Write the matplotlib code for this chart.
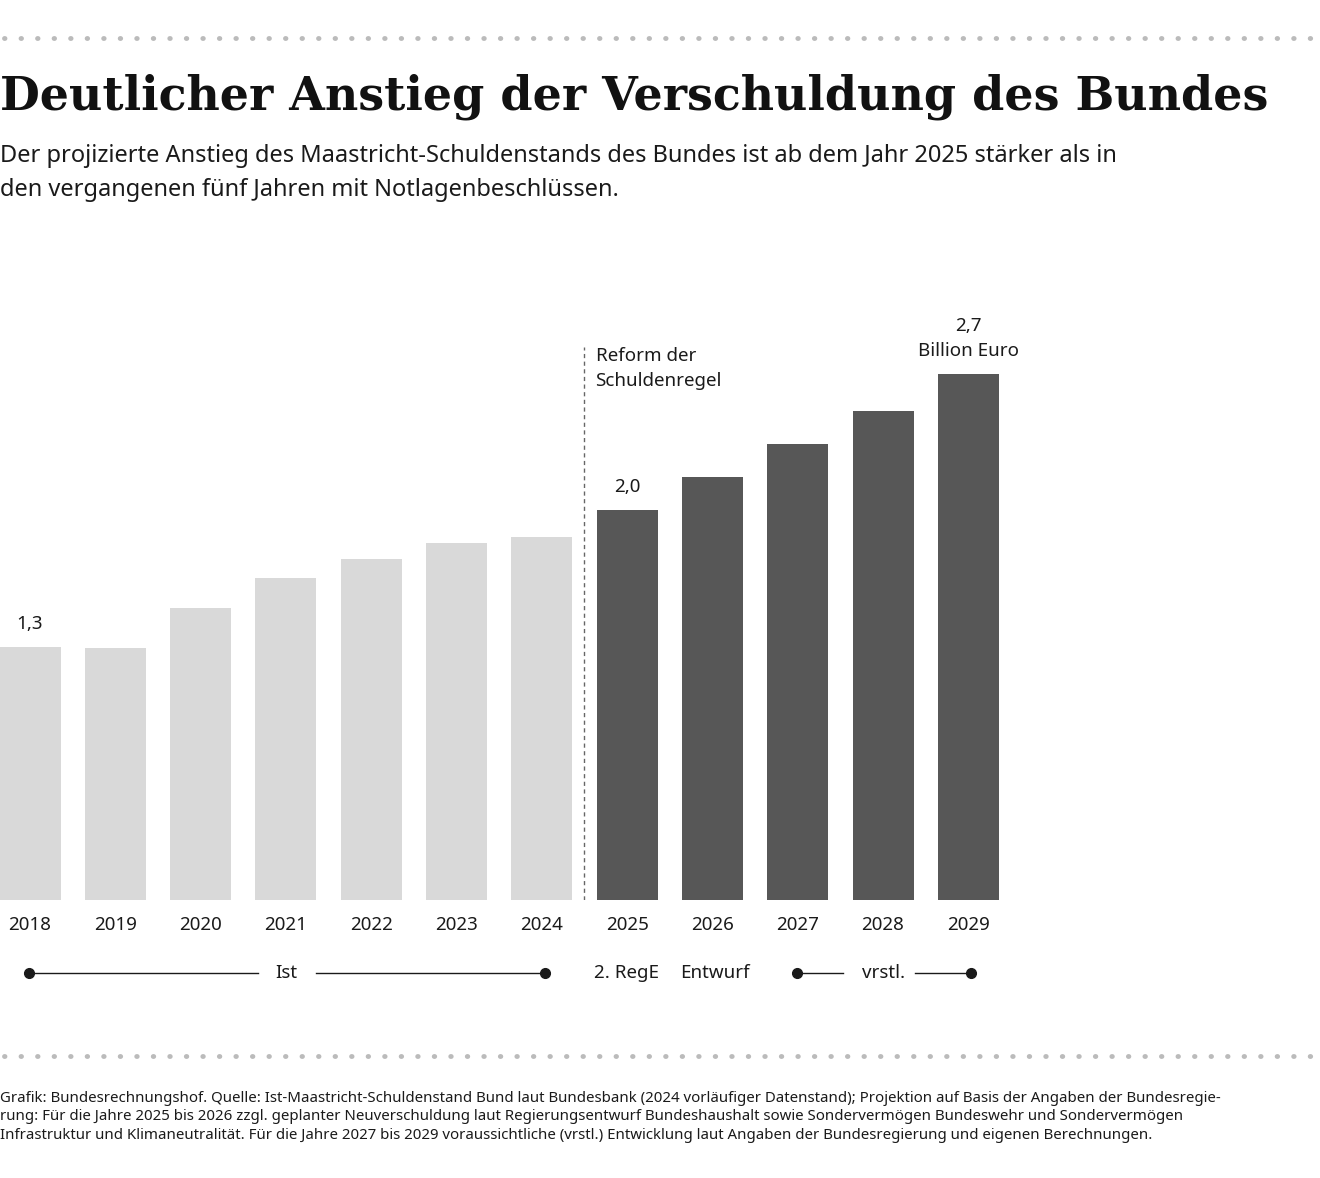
import matplotlib
matplotlib.use("Agg")
import matplotlib.pyplot as plt
from matplotlib.lines import Line2D

years = ["2018","2019","2020","2021","2022","2023","2024","2025","2026","2027","2028","2029"]
values = [1.30, 1.29, 1.50, 1.65, 1.75, 1.83, 1.86, 2.00, 2.17, 2.34, 2.51, 2.70]
ist_count = 7
labels = {0: "1,3", 7: "2,0", 11: "2,7\nBillion Euro"}

plt.rcParams['font.family'] = ['Noto Sans', 'DejaVu Sans']
W, H = 1320, 1178
fig = plt.figure(figsize=(W/100, H/100), dpi=100)
fig.patch.set_facecolor("white")

def px(x, y):
    return x / W, 1 - y / H

step = 85.3
x0 = -30 / step
x1 = (W - 30) / step
top_px, base_px = 250, 900
ax = fig.add_axes([0, 1 - base_px/H, 1, (base_px - top_px)/H])
ax.set_xlim(x0, x1)
ax.set_ylim(0, (base_px - top_px) / 195.0)
ax.axis("off")
cols = ["#d9d9d9"] * ist_count + ["#575757"] * (len(years) - ist_count)
xs = list(range(len(years)))
ax.bar(xs, values, width=61/step, color=cols)
for i, y in enumerate(years):
    ax.text(i, -0.08, y, ha="center", va="top", fontsize=13.5, color="#1a1a1a")
for i, t in labels.items():
    ax.text(i, values[i] + 0.07, t, ha="center", va="bottom", fontsize=13.5, color="#1a1a1a", linespacing=1.5)
ax.plot([6.5, 6.5], [0, (900-347)/195.0], ls=(0, (3, 2.5)), color="#666666", lw=1)
ax.text(6.63, (900-347)/195.0, "Reform der\nSchuldenregel", ha="left", va="top", fontsize=13.5, color="#1a1a1a", linespacing=1.5)

# bottom row
yb = 1 - 973/H
def seg(xa, xb):
    fig.add_artist(Line2D([xa/W, xb/W], [yb, yb], color="#1a1a1a", lw=1))
seg(29, 258); seg(316, 545); seg(797, 843); seg(915, 971)
for xd in (29, 545, 797, 971):
    fig.add_artist(Line2D([xd/W], [yb], marker="o", ms=7, color="#1a1a1a"))
for xt, t in ((286, "Ist"), (626, "2. RegE"), (715, "Entwurf"), (884, "vrstl.")):
    fig.text(xt/W, yb, t, ha="center", va="center", fontsize=13.5, color="#1a1a1a")

# dotted rules
for yy in (38, 1056):
    fig.add_artist(Line2D([0.003, 0.997], [1-yy/H]*2, ls=(0, (0.1, 3.3)), dash_capstyle="round",
                          color="#bbbbbb", lw=3.5))

fig.text(0, 1-97/H, "Deutlicher Anstieg der Verschuldung des Bundes", fontsize=33, fontweight="bold",
         family="DejaVu Serif", va="center", ha="left", color="#111111")
fig.text(0, 1-173/H, "Der projizierte Anstieg des Maastricht-Schuldenstands des Bundes ist ab dem Jahr 2025 stärker als in\nden vergangenen fünf Jahren mit Notlagenbeschlüssen.",
         fontsize=17, va="center", ha="left", color="#1a1a1a", linespacing=1.55)
fig.text(0, 1-1117/H, "Grafik: Bundesrechnungshof. Quelle: Ist-Maastricht-Schuldenstand Bund laut Bundesbank (2024 vorläufiger Datenstand); Projektion auf Basis der Angaben der Bundesregie-\nrung: Für die Jahre 2025 bis 2026 zzgl. geplanter Neuverschuldung laut Regierungsentwurf Bundeshaushalt sowie Sondervermögen Bundeswehr und Sondervermögen\nInfrastruktur und Klimaneutralität. Für die Jahre 2027 bis 2029 voraussichtliche (vrstl.) Entwicklung laut Angaben der Bundesregierung und eigenen Berechnungen.",
         fontsize=10.8, va="center", ha="left", color="#1a1a1a", linespacing=1.3)
fig.savefig("out.png", dpi=100)
